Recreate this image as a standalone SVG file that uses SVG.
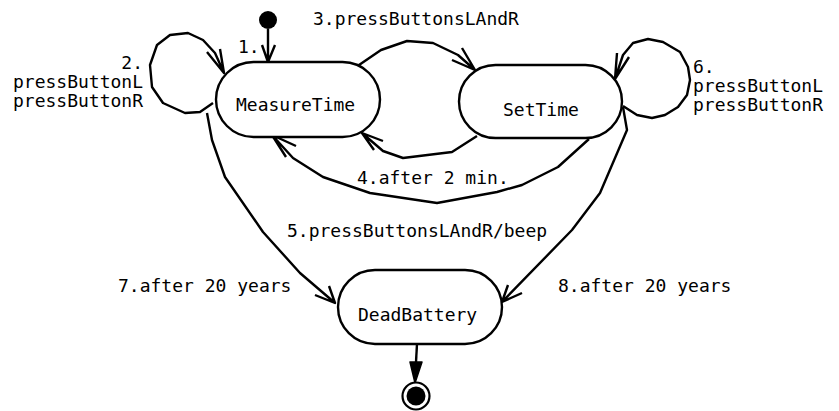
<svg xmlns="http://www.w3.org/2000/svg" width="839" height="411" viewBox="0 0 839 411">
<style>
  .st { fill: #fff; stroke: #000; stroke-width: 2.4; }
  .ln { fill: none; stroke: #000; stroke-width: 2.4; stroke-linejoin: round; }
  text { font-family: "DejaVu Sans Mono", "Liberation Mono", monospace; font-size: 18px; fill: #000; }
</style>
<rect width="839" height="411" fill="#fff"/>
<g id="connectors">
  <!-- initial -> MeasureTime -->
  <path class="ln" d="M268,29 L268,62 M262,45 L268,62 L275,45"/>
  <!-- 2 self loop MeasureTime -->
  <path class="ln" d="M213,103 L200,112 L185,113 L163,103 L152,87 L150,65 L157,45 L170,35 L188,33 L203,40 L215,53 L224,73 M207,52 L224,73 L220,49"/>
  <!-- 3 MeasureTime -> SetTime -->
  <path class="ln" d="M359,65 L381,50 L407,41 L433,43 L458,55 L475,70 M462,48 L475,70 L452,60"/>
  <!-- short SetTime -> MeasureTime -->
  <path class="ln" d="M477,136 L452,152 L403,158 L383,151 L362,133 M383,141 L362,133 L374,150"/>
  <!-- 4 long SetTime -> MeasureTime -->
  <path class="ln" d="M589,139 L558,167 L522,185 L497,192 L437,203 L370,193 L323,177 L293,158 L272,135 M296,146 L272,135 L286,157"/>
  <!-- 6 self loop SetTime -->
  <path class="ln" d="M623,106 L637,115 L652,118 L665,115 L678,107 L687,95 L690,80 L688,67 L680,52 L663,42 L648,39 L633,43 L623,55 L615,79 M617,53 L615,79 L629,57"/>
  <!-- 7 MeasureTime -> DeadBattery -->
  <path class="ln" d="M207,113 L212,140 L225,177 L263,232 L300,273 L335,303 M315,295 L335,303 L329,286"/>
  <!-- 8 SetTime -> DeadBattery -->
  <path class="ln" d="M623,107 L627,130 L600,193 L572,230 L502,302 M508,285 L502,302 L522,293"/>
  <!-- DeadBattery -> final -->
  <path class="ln" d="M417,344 L416,362"/>
  <path d="M410,362 L422,362 L415,383 Z" fill="#000" stroke="#000" stroke-width="1.5" stroke-linejoin="round"/>
</g>
<g id="initial">
  <circle cx="268" cy="20" r="9" fill="#000"/>
</g>
<g id="MeasureTime">
  <rect class="st" x="216" y="62" width="164" height="75" rx="37.5"/>
  <text x="236" y="111">MeasureTime</text>
</g>
<g id="SetTime">
  <rect class="st" x="459" y="65" width="163" height="73" rx="36.5"/>
  <text x="503" y="116">SetTime</text>
</g>
<g id="DeadBattery">
  <rect class="st" x="338" y="270" width="164" height="74" rx="37"/>
  <text x="358" y="321">DeadBattery</text>
</g>
<g id="final">
  <circle cx="416" cy="396" r="13.5" fill="#fff" stroke="#000" stroke-width="2.2"/>
  <circle cx="416" cy="396" r="9.5" fill="#000"/>
</g>
<g id="labels">
  <text x="238" y="53">1.</text>
  <text x="143" y="69" text-anchor="end">2.</text>
  <text x="13" y="88">pressButtonL</text>
  <text x="13" y="107">pressButtonR</text>
  <text x="313" y="25">3.pressButtonsLAndR</text>
  <text x="357" y="184">4.after 2 min.</text>
  <text x="287" y="237">5.pressButtonsLAndR/beep</text>
  <text x="693" y="73">6.</text>
  <text x="693" y="92">pressButtonL</text>
  <text x="693" y="111">pressButtonR</text>
  <text x="118" y="292">7.after 20 years</text>
  <text x="558" y="292">8.after 20 years</text>
</g>
</svg>
